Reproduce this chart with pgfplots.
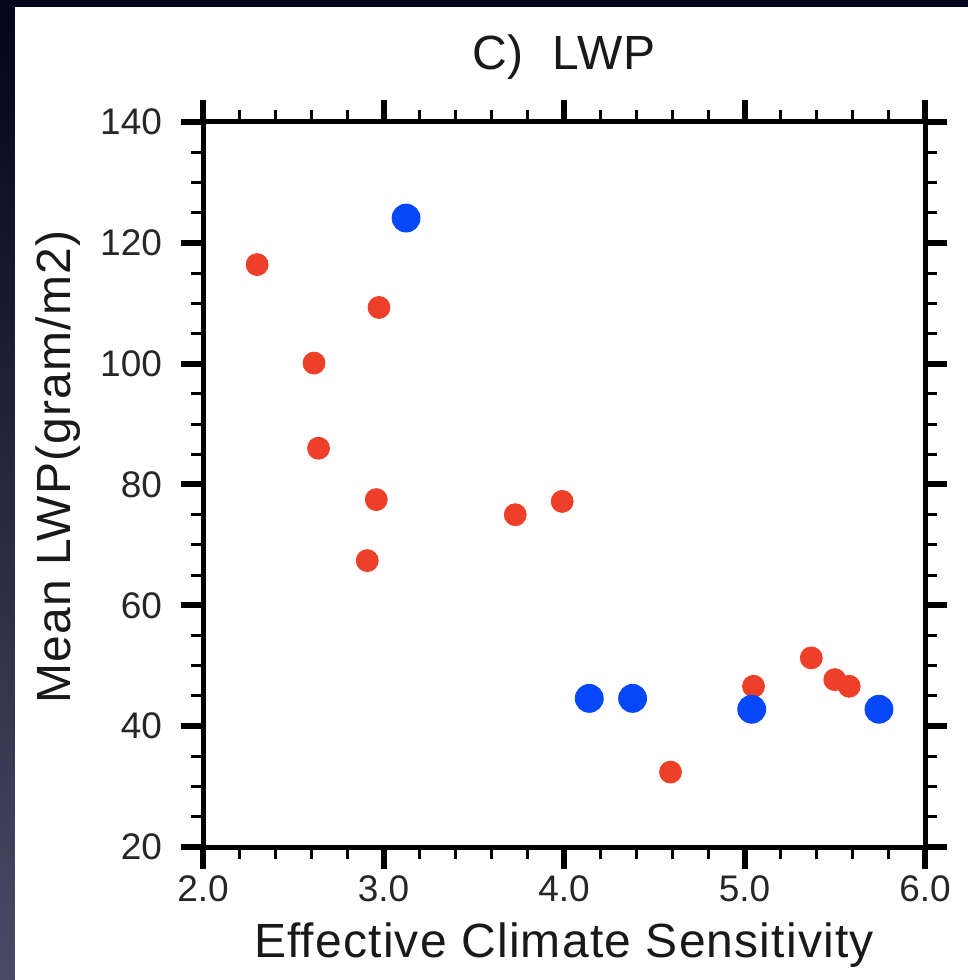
\documentclass[border=0pt]{standalone}
\usepackage{fontspec}
\setmainfont{Liberation Sans}
\newfontfamily\lblfont[LetterSpace=2.5]{Liberation Sans}
\usepackage{pgfplots}
\pgfplotsset{compat=1.18}
\definecolor{ptred}{RGB}{238,64,40}
\definecolor{ptblue}{RGB}{5,72,250}
\definecolor{bgnavy}{RGB}{4,4,28}
\definecolor{bgslate}{RGB}{74,74,102}

\begin{document}
\begin{tikzpicture}
% slide background and white panel
\fill[bgnavy] (0pt,0pt) rectangle (484pt,490pt);
\shade[top color=bgnavy, bottom color=bgslate] (0pt,0pt) rectangle (7.5pt,486.5pt);
\fill[white] (7.5pt,0pt) rectangle (484pt,486.5pt);
\path[use as bounding box] (0pt,0pt) rectangle (484pt,490pt);
\begin{axis}[
    at={(101.5pt,66.5pt)}, anchor=south west,
    width=361pt, height=362.5pt, scale only axis,
    xmin=2, xmax=6, ymin=20, ymax=140,
    xtick={2,3,4,5,6}, ytick={20,40,60,80,100,120,140},
    minor x tick num=4, minor y tick num=3,
    tick align=outside, tick pos=both,
    major tick length=11pt, minor tick length=6pt,
    axis line style={line width=2.5pt},
    major tick style={black, line width=3pt},
    minor tick style={black, line width=1.5pt},
    /pgf/number format/assume math mode=true,
    tick label style={font=\fontsize{18.5}{18.5}\selectfont, text=black!85},
    yticklabel style={xshift=-6pt},
    xticklabel style={/pgf/number format/.cd, fixed, fixed zerofill, precision=1},
    title={C)\ \ LWP},
    xlabel={Effective\ Climate\ Sensitivity},
    ylabel={Mean\ LWP(gram/m2)},
    every axis title/.style={at={(axis description cs:0.5,1.072)}, anchor=base, text=black!90, font=\lblfont\fontsize{24}{24}\selectfont},
    every axis x label/.style={at={(axis description cs:0.5,-0.152)}, anchor=base, text=black!90, font=\lblfont\fontsize{24}{24}\selectfont},
    every axis y label/.style={at={(axis description cs:-0.184,0.524)}, rotate=90, anchor=base, text=black!90, font=\lblfont\fontsize{24}{24}\selectfont},
    clip=false,
]
\addplot[only marks, mark=*, mark size=5.5pt, color=ptred] coordinates {
    (2.30,116.4) (2.615,100.1) (2.64,86.0) (2.975,109.3) (2.96,77.5)
    (2.91,67.4) (3.73,75.0) (3.99,77.2) (4.59,32.4) (5.05,46.6)
    (5.37,51.3) (5.50,47.7) (5.58,46.6)
};
\addplot[only marks, mark=*, mark size=7pt, color=ptblue] coordinates {
    (3.125,124.1) (4.14,44.6) (4.38,44.6) (5.04,42.8) (5.745,42.8)
};
\end{axis}
\end{tikzpicture}
\end{document}
